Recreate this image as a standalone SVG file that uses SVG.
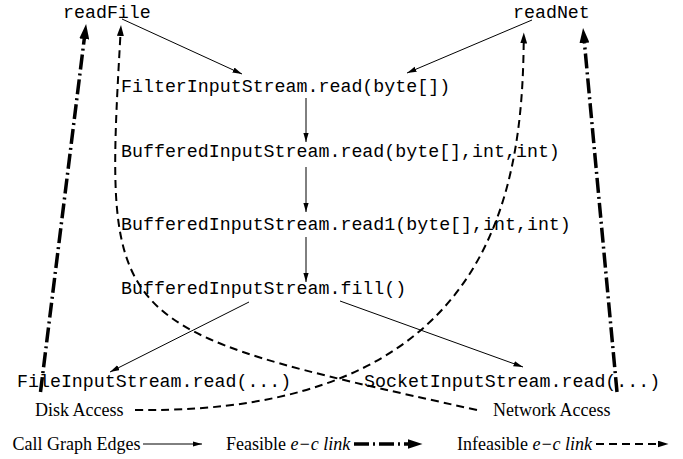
<svg xmlns="http://www.w3.org/2000/svg" width="683" height="459" viewBox="0 0 683 459">
  <style>
    .code { font-family: "Liberation Mono", "Courier New", monospace; font-size: 18.3px; fill: #000; }
    .label { font-family: "Liberation Serif", "Times New Roman", serif; font-size: 18px; fill: #000; }
    .it { font-style: italic; }
    .call { fill: none; stroke: #000; stroke-width: 1; marker-end: url(#headCall); }
    .feas { fill: none; stroke: #000; stroke-width: 3.5; stroke-dasharray: 15 4 2 4; marker-end: url(#headFeas); }
    .infeas { fill: none; stroke: #000; stroke-width: 2; stroke-dasharray: 8 5; marker-end: url(#headInfeas); }
  </style>
  <defs>
    <marker id="headCall" markerUnits="userSpaceOnUse" markerWidth="10" markerHeight="6" refX="9.5" refY="2.75" orient="auto">
      <path d="M0,0 L9.5,2.75 L0,5.5 z" fill="#000"/>
    </marker>
    <marker id="headFeas" markerUnits="userSpaceOnUse" markerWidth="15" markerHeight="10" refX="0.5" refY="5" orient="auto">
      <path d="M0,0 L15,5 L0,10 z" fill="#000"/>
    </marker>
    <marker id="headInfeas" markerUnits="userSpaceOnUse" markerWidth="11" markerHeight="7" refX="0.5" refY="3.5" orient="auto">
      <path d="M0,0 L11,3.5 L0,7 z" fill="#000"/>
    </marker>
  </defs>

  <rect width="683" height="459" fill="#fff"/>

  <!-- methods of the call graph -->
  <g id="readFile"><text class="code" x="63" y="18">readFile</text></g>
  <g id="readNet"><text class="code" x="513" y="18">readNet</text></g>
  <g id="filterRead"><text class="code" x="121" y="92">FilterInputStream.read(byte[])</text></g>
  <g id="bufferedRead"><text class="code" x="121" y="157">BufferedInputStream.read(byte[],int,int)</text></g>
  <g id="bufferedRead1"><text class="code" x="121" y="230">BufferedInputStream.read1(byte[],int,int)</text></g>
  <g id="bufferedFill"><text class="code" x="121" y="294">BufferedInputStream.fill()</text></g>
  <g id="fileRead"><text class="code" x="17" y="387">FileInputStream.read(...)</text></g>
  <g id="socketRead"><text class="code" x="364" y="387">SocketInputStream.read(...)</text></g>
  <g id="diskAccess"><text class="label" x="35" y="416">Disk Access</text></g>
  <g id="networkAccess"><text class="label" x="493" y="416">Network Access</text></g>

  <!-- edges -->
  <g id="connectors">
    <!-- call graph edges -->
    <line class="call" x1="122" y1="19" x2="242" y2="74"/>
    <line class="call" x1="532" y1="20" x2="407" y2="73"/>
    <line class="call" x1="306" y1="98" x2="306" y2="142"/>
    <line class="call" x1="306" y1="167" x2="306" y2="212"/>
    <line class="call" x1="306" y1="237" x2="306" y2="282"/>
    <line class="call" x1="249" y1="302" x2="110" y2="372"/>
    <line class="call" x1="340" y1="301" x2="523" y2="367"/>

    <!-- feasible e-c links -->
    <line class="feas" x1="40.5" y1="392" x2="84.3" y2="38.5"/>
    <line class="feas" x1="617" y1="392" x2="584.4" y2="42.5"/>

    <!-- infeasible e-c links -->
    <path class="infeas" d="M477,410 C104,328 104,328 120.4,35.5"/>
    <path class="infeas" d="M135,410 C490,415 522,195 523.7,43"/>
  </g>

  <!-- legend -->
  <g id="legend">
    <text class="label" x="12.5" y="450">Call Graph Edges</text>
    <line class="call" x1="143" y1="444" x2="202" y2="444"/>
    <text class="label" x="226" y="450">Feasible <tspan class="it">e−c link</tspan></text>
    <line class="feas" x1="354" y1="444" x2="408" y2="444"/>
    <text class="label" x="457" y="450">Infeasible <tspan class="it">e−c link</tspan></text>
    <line class="infeas" x1="596" y1="444" x2="658" y2="444"/>
  </g>
</svg>
